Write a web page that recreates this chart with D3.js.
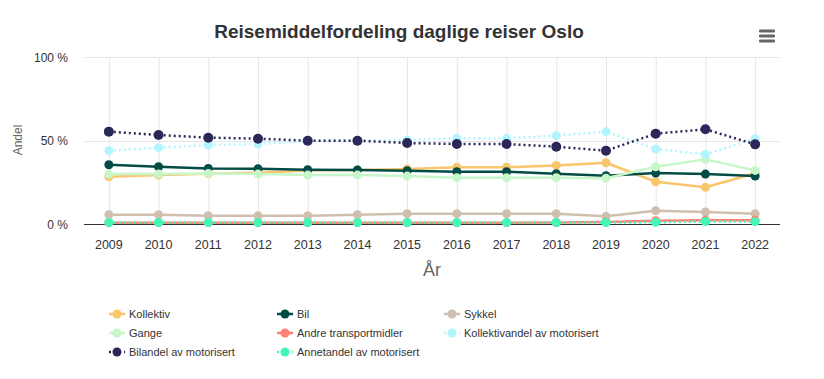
<!DOCTYPE html>
<html><head><meta charset="utf-8">
<script src="https://cdn.jsdelivr.net/npm/d3@7"></script>
<style>body{margin:0;background:#fff;}svg{display:block;font-family:"Liberation Sans",Arial,Helvetica,sans-serif;}</style>
</head><body><svg id="c" width="824" height="379"></svg>
<script>
const years = ["2009","2010","2011","2012","2013","2014","2015","2016","2017","2018","2019","2020","2021","2022"];
const yTicks = [0, 50, 100];
const kollektiv = [28.3,29.3,30.1,30.7,32.0,32.3,32.9,34.0,34.0,35.1,36.7,25.3,22.0,30.4];
const bil = [35.5,34.3,33.3,33.1,32.5,32.4,31.9,31.3,31.3,30.1,28.9,30.5,29.9,28.7];
const sykkel = [5.6,5.6,5.0,5.0,5.0,5.6,6.2,6.2,6.2,6.2,4.6,8.0,7.2,6.2];
const gange = [29.9,29.9,30.3,29.9,29.3,29.3,28.7,27.7,27.7,27.7,27.4,34.3,38.7,32.1];
const andre = [0.8,0.8,0.8,0.8,0.8,0.8,0.8,0.8,0.8,0.9,1.2,2.0,2.3,2.3];
const kollektivandel = [43.9,45.7,47.3,47.9,49.7,49.9,50.3,51.3,51.3,52.9,55.3,44.9,41.7,51.1];
const bilandel = [55.3,53.3,51.7,51.1,49.9,49.9,48.5,47.9,47.9,46.3,43.9,54.1,56.7,47.7];
const annetandel = [0.9,0.9,0.9,0.9,0.9,0.9,0.9,0.9,0.9,0.9,0.9,1.0,1.5,1.4];

const series = [
  {name:"Kollektiv", data:kollektiv, color:"#f9c66b", dash:null},
  {name:"Bil", data:bil, color:"#034b45", dash:null},
  {name:"Sykkel", data:sykkel, color:"#d0bfae", dash:null},
  {name:"Gange", data:gange, color:"#c7f6c9", dash:null},
  {name:"Andre transportmidler", data:andre, color:"#ff8274", dash:null},
  {name:"Kollektivandel av motorisert", data:kollektivandel, color:"#b3f5ff", dash:"2,3"},
  {name:"Bilandel av motorisert", data:bilandel, color:"#2a2859", dash:"2,3"},
  {name:"Annetandel av motorisert", data:annetandel, color:"#43f8b6", dash:"2,3"}
];

const svg = d3.select("#c");
const L = 84, R = 780, T = 57, B = 224;
const x = d3.scaleBand().domain(years).range([L, R]);
const cx = d => x(d) + x.bandwidth()/2;
const y = d3.scaleLinear().domain([0,100]).range([B, T]);

// grid
const g = svg.append("g");
g.selectAll(".vg").data(years).enter().append("line")
  .attr("x1", d=>cx(d)+0.5).attr("x2", d=>cx(d)+0.5).attr("y1", T).attr("y2", B)
  .attr("stroke", "#e6e6e6").attr("stroke-width", 1);
g.selectAll(".hg").data(yTicks.filter(v=>v>0)).enter().append("line")
  .attr("x1", L).attr("x2", R).attr("y1", d=>Math.round(y(d))+0.5).attr("y2", d=>Math.round(y(d))+0.5)
  .attr("stroke", "#e6e6e6").attr("stroke-width", 1);

// y axis labels
const yAxis = d3.axisLeft(y).tickValues(yTicks).tickSize(0).tickPadding(16).tickFormat(d => d + " %");
const ya = svg.append("g").attr("transform", `translate(${L},0)`).call(yAxis);
ya.select(".domain").remove();
ya.selectAll("text").attr("font-size", 12).attr("fill", "#333").attr("font-family", "Liberation Sans, Arial, sans-serif").attr("dy", "0.35em");

// x axis
const xAxis = d3.axisBottom(x).tickSize(0).tickPadding(16);
const xa = svg.append("g").attr("transform", `translate(0,${B})`).call(xAxis);
xa.select(".domain").attr("stroke", "#333").attr("d", `M${L},0.5H${R}`);
xa.selectAll("text").attr("font-size", 12.5).attr("fill", "#333").attr("font-family", "Liberation Sans, Arial, sans-serif");

// axis titles
svg.append("text").attr("x", 432).attr("y", 276).attr("text-anchor", "middle")
  .attr("font-size", 18).attr("fill", "#666").text("År");
svg.append("text").attr("transform", "translate(22,140) rotate(-90)").attr("text-anchor", "middle")
  .attr("font-size", 12).attr("fill", "#666").text("Andel");

// title
svg.append("text").attr("x", 399).attr("y", 38).attr("text-anchor", "middle")
  .attr("font-size", 19).attr("font-weight", "bold").attr("fill", "#333")
  .text("Reisemiddelfordeling daglige reiser Oslo");

// menu icon
[31,36,41].forEach(yy => svg.append("rect").attr("x", 759).attr("y", yy-1.5).attr("width", 16).attr("height", 3)
  .attr("rx", 1).attr("fill", "#666"));

// lines
const line = d3.line().x((d,i)=>cx(years[i])).y(d=>y(d));
const lg = svg.append("g");
series.forEach(s => {
  const gg = lg.append("g");
  gg.append("path").attr("d", line(s.data)).attr("fill", "none").attr("stroke", s.color)
    .attr("stroke-width", 2.5).attr("stroke-dasharray", s.dash).attr("stroke-linejoin", "round");
  gg.selectAll("circle").data(s.data).enter().append("circle")
    .attr("cx", (d,i)=>cx(years[i])).attr("cy", d=>y(d)).attr("r", s.name==="Bilandel av motorisert" ? 5 : 4.5)
    .attr("fill", s.color);
});

// legend
const colX = [117, 285, 452];
const rowY = [314, 333, 352];
series.forEach((s, i) => {
  const cxl = colX[i % 3], cyl = rowY[Math.floor(i / 3)];
  const it = svg.append("g");
  it.append("line").attr("x1", cxl-8).attr("x2", cxl+8).attr("y1", cyl).attr("y2", cyl)
    .attr("stroke", s.color).attr("stroke-width", 2.5).attr("stroke-dasharray", s.dash);
  it.append("circle").attr("cx", cxl).attr("cy", cyl).attr("r", 4.5).attr("fill", s.color);
  it.append("text").attr("x", cxl+12).attr("y", cyl).attr("dy", "0.35em")
    .attr("font-size", 11).attr("fill", "#333").text(s.name);
});
</script></body></html>
